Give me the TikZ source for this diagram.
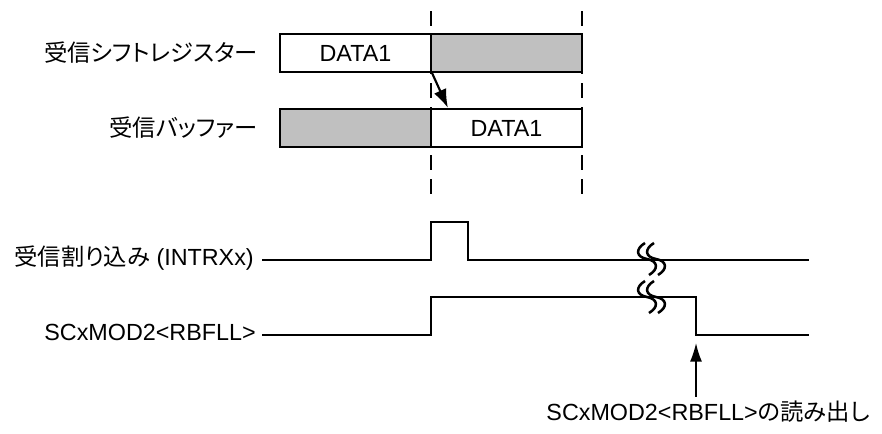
\documentclass[tikz,border=0pt]{standalone}
\usepackage{fontspec}
\setmainfont{Liberation Sans}
\newfontfamily\jpfont[RawFeature=+palt]{Noto Sans CJK JP}
\usetikzlibrary{positioning,calc,arrows.meta}
\definecolor{regfill}{HTML}{C0C0C0}

\begin{document}
\begin{tikzpicture}[x=0.75pt, y=-0.75pt,
		cell/.style={shape=rectangle, draw, fill=white, line width=1.6pt, minimum width=113.25pt, minimum height=28.5pt, inner sep=0pt, font=\fontsize{17.5}{20}\selectfont},
		lbl/.style={inner sep=0pt, font=\fontsize{17.5}{20}\selectfont},
		sig/.style={line width=2.1pt},
		guide/.style={line width=1.5pt, dash pattern=on 11.25pt off 6.75pt}]
		\useasboundingbox (0,0) rectangle (882,433);

		\draw[guide] (431,11) -- (431,194);
		\draw[guide] (582,11) -- (582,194);

		\node[cell] (sr1) at (355.5,53) {DATA1};
		\node[cell, fill=regfill] (sr2) at (506.5,53) {};
		\node[cell, fill=regfill] (rb1) at (355.5,128) {};
		\node[cell] (rb2) at (506.5,128) {DATA1};
		\node[lbl, left=15.75pt of sr1] (srlbl) {\jpfont 受信シフトレジスター};
		\node[lbl, left=15.75pt of rb1] (rblbl) {\jpfont 受信バッファー};
		\draw[line width=1.6pt, -{Latex[length=14pt, width=10pt]}] (sr1.south east) -- ($(rb2.north west)+(18,0)$);

		\node[lbl, anchor=east] (intr) at (254,258) {{\jpfont 受信割り込み} (INTRXx)};
		\node[lbl, anchor=east] (rbfll) at (256,332) {SCxMOD2<RBFLL>};
		\coordinate (fall) at (696,335);
		\coordinate (rdtip) at (696,343);
		\draw[sig] (262,260) -| (431,222) -| (468,260) -- (809,260);
		\draw[sig] (262,335) -| (431,297) -| (fall) -- (809,335);
		\foreach \y in {259,297}
			\foreach \x in {647,656}
				\draw[line width=1.9pt] ({\x-2},{\y-16}) .. controls ({\x-12},{\y-10}) and ({\x-11},{\y-2}) .. (\x,\y) .. controls ({\x+11},{\y+2}) and ({\x+12},{\y+10}) .. ({\x+2},{\y+16});

		\node[lbl] (rd) at (708,412) {SCxMOD2<RBFLL>{\jpfont の読み出し}};
		\draw[line width=1.1pt, shorten <=3pt, -{Latex[length=14pt, width=9pt]}] (fall |- rd.north) -- (rdtip);
	\end{tikzpicture}
\end{document}
